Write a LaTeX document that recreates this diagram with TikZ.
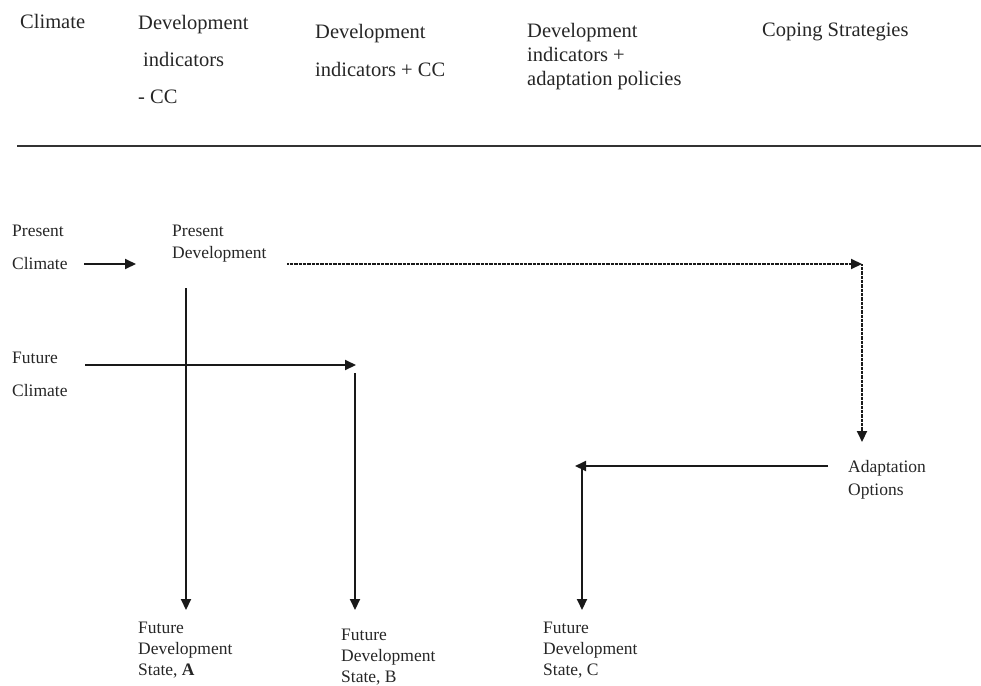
\documentclass[tikz,border=0pt]{standalone}
\usepackage{fontspec}
\setmainfont{Liberation Serif}
\usetikzlibrary{arrows.meta}
\begin{document}
\begin{tikzpicture}[x=1pt,y=-1pt,
  hdr/.style={anchor=base west,inner sep=0pt,align=left,text=black!85},
  lbl/.style={anchor=base west,inner sep=0pt,align=left,text=black!85},
  conn/.style={line width=2pt,black!90,-{Triangle[length=11pt,width=10pt]}},
  dotconn/.style={line width=2pt,black!90,dash pattern=on 0.8pt off 0.5pt,-{Triangle[length=11pt,width=10pt]}},
  rulestyle/.style={line width=1.2pt,black!80}
]
\useasboundingbox (0,0) rectangle (981,685);
% header (anchor = baseline of the last line)
\node[hdr,font=\fontsize{20.5}{37}\selectfont] (h1) at (20,29) {Climate};
\node[hdr,font=\fontsize{20.5}{37}\selectfont] (h2) at (138,103) {Development\\\hspace*{5pt}indicators\\- CC};
\node[hdr,font=\fontsize{20.5}{38}\selectfont] (h3) at (315,76) {Development\\indicators + CC};
\node[hdr,font=\fontsize{20.5}{24}\selectfont] (h4) at (527,85) {Development\\indicators +\\adaptation policies};
\node[hdr,font=\fontsize{20.5}{24}\selectfont] (h5) at (762,37) {Coping Strategies};
\coordinate (r1) at (17,146);
\coordinate (r2) at (981,146);
\draw[rulestyle] (r1) -- (r2);
% labels
\node[lbl,font=\fontsize{17.5}{33}\selectfont] (pc) at (12,269) {Present\\Climate};
\node[lbl,font=\fontsize{17.5}{22}\selectfont] (pd) at (172,258) {Present\\Development};
\node[lbl,font=\fontsize{17.5}{33}\selectfont] (fc) at (12,396) {Future\\Climate};
\node[lbl,font=\fontsize{17.5}{21}\selectfont] (fa) at (138,675) {Future\\Development\\State, \textbf{A}};
\node[lbl,font=\fontsize{17.5}{21}\selectfont] (fb) at (341,682) {Future\\Development\\State, B};
\node[lbl,font=\fontsize{17.5}{21}\selectfont] (fcs) at (543,675) {Future\\Development\\State, C};
\node[lbl,font=\fontsize{17.5}{23}\selectfont] (ao) at (848,495) {Adaptation\\Options};
% connector end points
\coordinate (pcA) at (84,264);
\coordinate (pcB) at (136,264);
\coordinate (pdA) at (287,264);
\coordinate (corner) at (862,264);
\coordinate (aoTop) at (862,442);
\coordinate (vaA) at (186,288);
\coordinate (vaB) at (186,610);
\coordinate (fcA) at (85,365);
\coordinate (fcB) at (356,365);
\coordinate (vbA) at (355,373);
\coordinate (vbB) at (355,610);
\coordinate (aoA) at (828,466);
\coordinate (aoB) at (575,466);
\coordinate (vcA) at (582,466);
\coordinate (vcB) at (582,610);
% connectors
\draw[conn] (pcA) -- (pcB);
\draw[dotconn] (pdA) -- (corner);
\draw[dotconn] (corner) -- (aoTop);
\draw[conn] (vaA) -- (vaB);
\draw[conn] (fcA) -- (fcB);
\draw[conn] (vbA) -- (vbB);
\draw[conn] (aoA) -- (aoB);
\draw[conn] (vcA) -- (vcB);
\end{tikzpicture}
\end{document}
